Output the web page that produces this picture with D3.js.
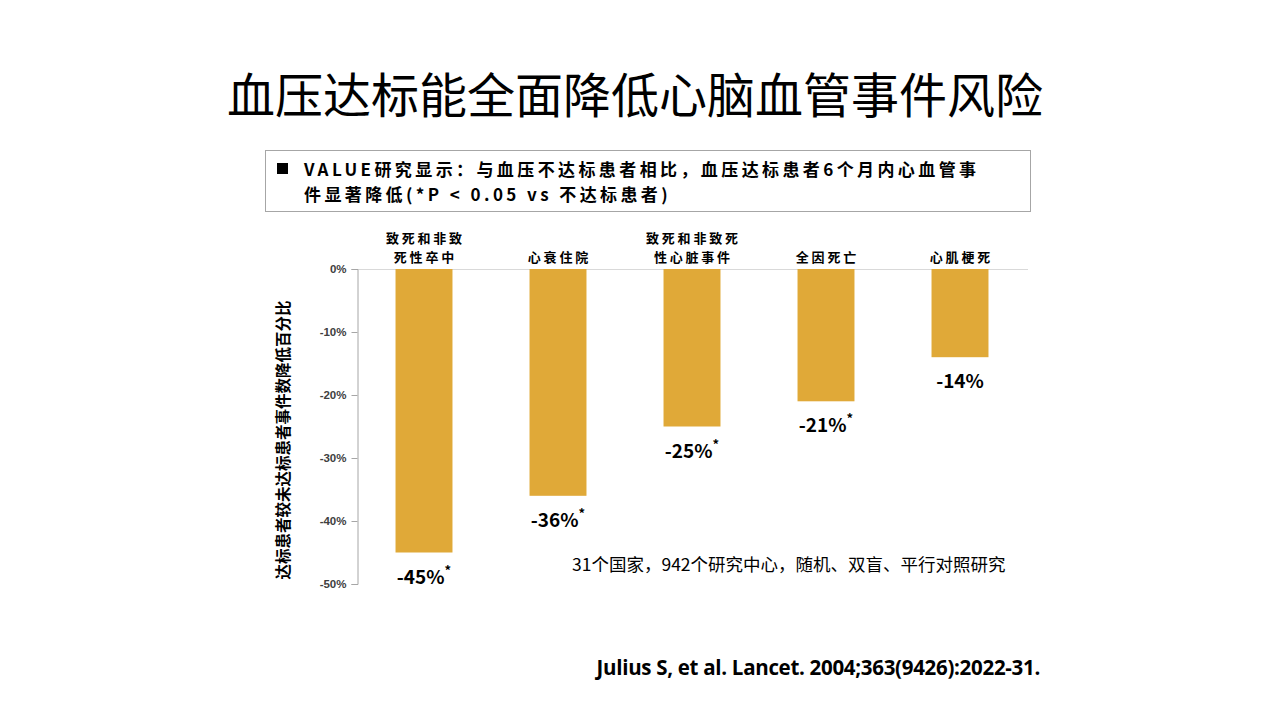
<!DOCTYPE html>
<html><head><meta charset="utf-8">
<script src="https://cdn.jsdelivr.net/npm/d3@7/dist/d3.min.js"></script>
<style>body{margin:0;background:#fff}svg{display:block}</style>
</head><body>
<svg id="c" width="1280" height="720"></svg>
<script>
const categories = [["致死和非致","死性卒中"],["心衰住院"],["致死和非致死","性心脏事件"],["全因死亡"],["心肌梗死"]];
const values = [-45, -36, -25, -21, -14];
const significant = [true, true, true, true, false];
const tickValues = [0, -10, -20, -30, -40, -50];

const svg = d3.select("#c");
const FONT = "'Noto Sans CJK SC', 'Microsoft YaHei', sans-serif";

svg.append("text").attr("x", 635).attr("y", 113).attr("text-anchor","middle")
  .attr("font-family", FONT).attr("font-size", 48).attr("fill","#000")
  .text("血压达标能全面降低心脑血管事件风险");

svg.append("rect").attr("x",265.5).attr("y",150.5).attr("width",765).attr("height",61)
  .attr("fill","none").attr("stroke","#a6a6a6").attr("stroke-width",1);
svg.append("rect").attr("x",277).attr("y",163).attr("width",11).attr("height",11).attr("fill","#000");
const bt = svg.append("text").attr("font-family",FONT).attr("font-size",17).attr("font-weight","bold")
  .attr("letter-spacing",3.4).attr("fill","#000");
bt.append("tspan").attr("x",304).attr("y",176).text("VALUE研究显示：与血压不达标患者相比，血压达标患者6个月内心血管事");
bt.append("tspan").attr("x",304).attr("y",201).text("件显著降低(*P < 0.05  vs 不达标患者)");

const x = d3.scaleBand().domain(d3.range(values.length)).range([357,1027]).paddingInner(0.575).paddingOuter(0.2875);
const y = d3.scaleLinear().domain([-50,0]).range([584,269]);

// zero gridline
svg.append("line").attr("x1",357).attr("x2",1028).attr("y1",y(0)+0.5).attr("y2",y(0)+0.5).attr("stroke","#d9d9d9");

const ax = svg.append("g").attr("transform","translate(357.5,0)")
  .call(d3.axisLeft(y).tickValues(tickValues).tickSize(6).tickPadding(5).tickFormat(d=>d+"%"));
ax.select(".domain").attr("stroke","#a6a6a6");
ax.selectAll(".tick line").attr("stroke","#a6a6a6");
ax.selectAll(".tick text").attr("font-family","'Liberation Sans', Arial, sans-serif").attr("font-size",11.5).attr("fill","#404040").attr("font-weight","bold");

svg.selectAll("rect.bar").data(values).enter().append("rect").attr("class","bar")
  .attr("x",(d,i)=>x(i)).attr("width",x.bandwidth())
  .attr("y",y(0)).attr("height",d=>y(d)-y(0)).attr("fill","#e0a938");

// value labels
values.forEach((v,i)=>{
  const cx = x(i)+x.bandwidth()/2;
  const t = svg.append("text").attr("x",cx).attr("y",y(v)+31).attr("text-anchor","middle")
    .attr("font-family",FONT).attr("font-size",19).attr("font-weight","bold").attr("fill","#000");
  t.append("tspan").text(v+"%");
  if(significant[i]) t.append("tspan").attr("dy",-9).attr("font-size",13).text("*");
});

// category labels
categories.forEach((lines,i)=>{
  const cx = x(i)+x.bandwidth()/2;
  const t = svg.append("text").attr("text-anchor","middle").attr("font-family",FONT)
    .attr("font-size",13).attr("font-weight","bold").attr("letter-spacing",2.8).attr("fill","#000");
  lines.forEach((l,j)=>{
    t.append("tspan").attr("x",cx+1.4).attr("y",262 - (lines.length-1-j)*19).text(l);
  });
});

// y-axis title
svg.append("text").attr("transform","translate(289,440) rotate(-90)").attr("text-anchor","middle")
  .attr("font-family",FONT).attr("font-size",15.5).attr("font-weight","bold").attr("fill","#000")
  .text("达标患者较未达标患者事件数降低百分比");

svg.append("text").attr("x",572).attr("y",571).attr("font-family",FONT).attr("font-size",17.5).attr("fill","#000")
  .text("31个国家，942个研究中心，随机、双盲、平行对照研究");

svg.append("text").attr("x",1040).attr("y",675).attr("text-anchor","end")
  .attr("font-family","'Open Sans', 'Liberation Sans', sans-serif").attr("font-size",20.5).attr("font-weight","bold").attr("fill","#000")
  .attr("letter-spacing",-0.3)
  .text("Julius S, et al. Lancet. 2004;363(9426):2022-31.");
</script>
</body></html>
